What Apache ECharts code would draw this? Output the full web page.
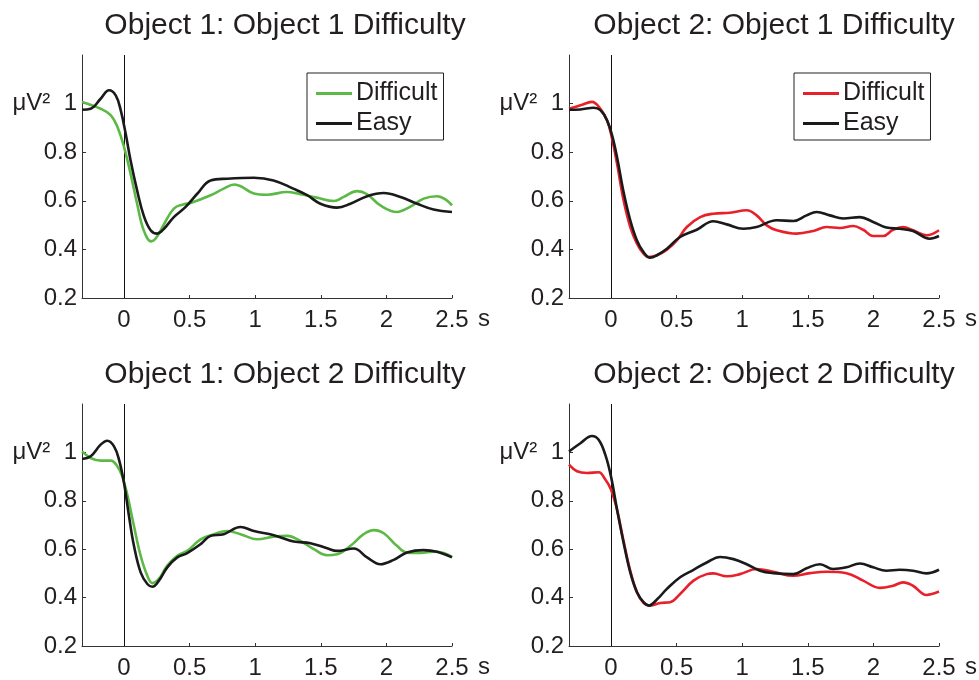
<!DOCTYPE html>
<html>
<head>
<meta charset="utf-8">
<script src="https://cdn.jsdelivr.net/npm/echarts@6/dist/echarts.min.js"></script>
<style>html,body{margin:0;padding:0;background:#fff;}#c{width:979px;height:680px;}</style>
</head>
<body>
<div id="c"></div>
<script>
// ---- tick labels ----
const xTickValues = [0, 0.5, 1, 1.5, 2, 2.5];
const xTickLabels = ['0', '0.5', '1', '1.5', '2', '2.5'];
const yTickValues = [0.2, 0.4, 0.6, 0.8, 1];
const yTickLabels = ['0.2', '0.4', '0.6', '0.8', 'μV²  1'];
const titles = ['Object 1: Object 1 Difficulty', 'Object 2: Object 1 Difficulty',
                'Object 1: Object 2 Difficulty', 'Object 2: Object 2 Difficulty'];
const seriesNames = ['Difficult', 'Easy'];

// ---- Panel 1 (Object 1: Object 1 Difficulty) ----
const p1DiffT = [-0.32,-0.178,-0.10,-0.05,0,0.05,0.10,0.15,0.208,0.25,0.30,0.38,0.457,0.508,0.66,0.76,0.84,0.89,0.99,1.09,1.24,1.345,1.47,1.60,1.675,1.777,1.853,1.954,2.08,2.18,2.284,2.386,2.46,2.5];
const p1DiffV = [1.007,0.979,0.952,0.904,0.822,0.712,0.588,0.479,0.433,0.451,0.499,0.568,0.586,0.591,0.623,0.65,0.667,0.66,0.63,0.625,0.636,0.627,0.613,0.599,0.616,0.64,0.627,0.581,0.554,0.575,0.609,0.619,0.602,0.581];
const p1EasyT = [-0.32,-0.254,-0.178,-0.114,-0.063,-0.025,0.013,0.05,0.10,0.15,0.203,0.254,0.305,0.38,0.47,0.56,0.66,0.787,0.99,1.14,1.29,1.396,1.497,1.624,1.726,1.853,1.98,2.107,2.234,2.36,2.5];
const p1EasyV = [0.975,0.979,1.02,1.055,1.034,0.973,0.876,0.767,0.643,0.54,0.479,0.465,0.485,0.533,0.575,0.63,0.684,0.691,0.695,0.684,0.65,0.623,0.588,0.572,0.588,0.619,0.632,0.616,0.588,0.564,0.554];

// ---- Panel 2 (Object 2: Object 1 Difficulty) ----
const p2DiffT = [-0.32,-0.233,-0.145,-0.081,-0.03,0.008,0.046,0.096,0.147,0.198,0.248,0.287,0.35,0.426,0.502,0.578,0.68,0.78,0.908,1.034,1.11,1.187,1.263,1.415,1.542,1.643,1.744,1.846,1.922,1.998,2.074,2.15,2.226,2.302,2.404,2.5];
const p2DiffV = [0.979,0.993,1.007,0.979,0.931,0.856,0.753,0.602,0.492,0.424,0.383,0.369,0.376,0.399,0.437,0.492,0.533,0.547,0.551,0.561,0.54,0.499,0.479,0.465,0.476,0.492,0.488,0.496,0.481,0.455,0.455,0.481,0.492,0.479,0.458,0.479];
const p2EasyT = [-0.32,-0.233,-0.132,-0.081,-0.03,0.008,0.046,0.096,0.147,0.198,0.248,0.299,0.35,0.426,0.527,0.654,0.78,0.882,1.009,1.11,1.263,1.39,1.491,1.567,1.668,1.77,1.897,1.998,2.1,2.2,2.302,2.429,2.5];
const p2EasyV = [0.975,0.976,0.983,0.973,0.931,0.87,0.78,0.636,0.52,0.437,0.389,0.366,0.376,0.403,0.451,0.481,0.516,0.503,0.485,0.492,0.52,0.517,0.54,0.554,0.54,0.527,0.533,0.513,0.49,0.485,0.476,0.444,0.455];

// ---- Panel 3 (Object 1: Object 2 Difficulty) ----
const p3DiffT = [-0.32,-0.254,-0.178,-0.10,-0.05,-0.013,0.025,0.076,0.127,0.178,0.216,0.266,0.33,0.406,0.482,0.584,0.685,0.787,0.888,1.015,1.142,1.244,1.345,1.447,1.548,1.624,1.726,1.827,1.904,1.98,2.08,2.157,2.26,2.36,2.437,2.5];
const p3DiffV = [1.004,0.977,0.966,0.966,0.942,0.901,0.826,0.696,0.573,0.49,0.46,0.477,0.532,0.573,0.593,0.641,0.662,0.675,0.662,0.641,0.652,0.655,0.634,0.6,0.575,0.579,0.614,0.662,0.679,0.666,0.614,0.586,0.584,0.59,0.584,0.568];
const p3EasyT = [-0.32,-0.254,-0.178,-0.127,-0.076,-0.038,0,0.038,0.076,0.127,0.178,0.216,0.266,0.33,0.406,0.482,0.584,0.66,0.76,0.888,0.99,1.142,1.294,1.421,1.548,1.624,1.751,1.853,1.954,2.056,2.157,2.284,2.386,2.5];
const p3EasyV = [0.973,0.984,1.032,1.048,1.025,0.97,0.874,0.737,0.614,0.504,0.456,0.445,0.47,0.525,0.566,0.584,0.621,0.655,0.662,0.692,0.675,0.658,0.632,0.625,0.604,0.593,0.603,0.566,0.538,0.556,0.586,0.596,0.589,0.566];

// ---- Panel 4 (Object 2: Object 2 Difficulty) ----
const p4DiffT = [-0.32,-0.259,-0.183,-0.094,-0.043,0,0.046,0.096,0.147,0.198,0.248,0.299,0.375,0.451,0.527,0.629,0.73,0.78,0.882,0.983,1.11,1.237,1.39,1.516,1.643,1.795,1.922,2.049,2.15,2.226,2.302,2.404,2.5];
const p4DiffV = [0.949,0.922,0.915,0.918,0.888,0.847,0.764,0.634,0.511,0.422,0.378,0.367,0.378,0.381,0.415,0.47,0.497,0.5,0.488,0.497,0.518,0.507,0.49,0.501,0.507,0.501,0.47,0.44,0.449,0.463,0.449,0.411,0.425];
const p4EasyT = [-0.32,-0.233,-0.145,-0.094,-0.043,0,0.046,0.096,0.147,0.198,0.248,0.287,0.35,0.426,0.527,0.629,0.73,0.832,0.933,1.034,1.136,1.237,1.39,1.491,1.592,1.693,1.795,1.897,1.998,2.1,2.2,2.302,2.404,2.5];
const p4EasyV = [1.004,1.038,1.068,1.052,0.99,0.901,0.764,0.627,0.504,0.422,0.381,0.367,0.392,0.436,0.484,0.515,0.545,0.568,0.559,0.538,0.511,0.501,0.497,0.521,0.538,0.518,0.525,0.541,0.525,0.511,0.515,0.511,0.5,0.515];

const panels = [
  {diffT: p1DiffT, diffV: p1DiffV, easyT: p1EasyT, easyV: p1EasyV, color: '#5cb946', legend: true},
  {diffT: p2DiffT, diffV: p2DiffV, easyT: p2EasyT, easyV: p2EasyV, color: '#e8202a', legend: true},
  {diffT: p3DiffT, diffV: p3DiffV, easyT: p3EasyT, easyV: p3EasyV, color: '#5cb946', legend: false},
  {diffT: p4DiffT, diffV: p4DiffV, easyT: p4EasyT, easyV: p4EasyV, color: '#e8202a', legend: false}
];

const FONT = '"Liberation Sans", Arial, Helvetica, sans-serif';
const TXT = '#231f20';
const gridPos = [
  {left: 82, top: 55, width: 370, height: 243},
  {left: 569, top: 55, width: 370, height: 243},
  {left: 82, top: 404, width: 370, height: 243},
  {left: 569, top: 404, width: 370, height: 243}
];
const titlePos = [{x: 280, y: 6}, {x: 769, y: 6}, {x: 280, y: 355}, {x: 769, y: 355}];
const legendPos = [{left: 307, top: 73}, {left: 794, top: 73}];

const zip = (t, v) => t.map((x, i) => [x, v[i]]);

const option = {
  animation: false,
  backgroundColor: '#fff',
  textStyle: {fontFamily: FONT},
  title: titles.map((t, i) => ({
    text: t, left: titlePos[i].x, top: titlePos[i].y, textAlign: 'center',
    textStyle: {fontFamily: FONT, fontSize: 30, fontWeight: 'normal', color: TXT}
  })),
  grid: gridPos.map(g => Object.assign({containLabel: false}, g)),
  xAxis: gridPos.map((g, i) => ({
    type: 'value', gridIndex: i, min: -0.32, max: 2.5,
    name: 's', nameLocation: 'end', nameGap: 26,
    nameTextStyle: {fontFamily: FONT, fontSize: 24, color: TXT, verticalAlign: 'top', padding: [9, 0, 0, 0]},
    axisLine: {show: true, onZero: false, lineStyle: {color: '#333', width: 1}},
    axisTick: {show: true, inside: true, length: 3, customValues: xTickValues, lineStyle: {color: '#333'}},
    axisLabel: {show: true, margin: 10, fontSize: 24, fontFamily: FONT, color: TXT,
      customValues: xTickValues,
      formatter: v => { const k = xTickValues.findIndex(x => Math.abs(x - v) < 1e-9); return k >= 0 ? xTickLabels[k] : ''; }},
    splitLine: {show: false}
  })),
  yAxis: gridPos.map((g, i) => ({
    type: 'value', gridIndex: i, min: 0.2, max: 1.2,
    axisLine: {show: true, onZero: false, lineStyle: {color: '#333', width: 1}},
    axisTick: {show: true, inside: true, length: 4, customValues: yTickValues, lineStyle: {color: '#333'}},
    axisLabel: {show: true, margin: 5, fontSize: 24, fontFamily: FONT, color: TXT,
      customValues: yTickValues,
      formatter: v => { const k = yTickValues.findIndex(x => Math.abs(x - v) < 1e-9); return k >= 0 ? yTickLabels[k] : ''; }},
    splitLine: {show: false}
  })),
  legend: legendPos.map((p, li) => ({
    left: p.left, top: p.top, orient: 'vertical',
    data: seriesNames.map(n => ({name: n + '|' + li, icon: 'rect'})),
    formatter: n => n.split('|')[0],
    itemWidth: 36, itemHeight: 3, itemGap: 5,
    padding: [8, 6, 4, 9],
    borderColor: '#222', borderWidth: 1, backgroundColor: '#fff',
    selectedMode: false,
    textStyle: {fontFamily: FONT, fontSize: 25, color: TXT, padding: [0, 0, 0, -1]}
  })),
  series: []
};

panels.forEach((p, i) => {
  const nm = p.legend ? (n => n + '|' + i) : (n => n + '|x' + i);
  option.series.push({
    type: 'line', name: nm('Difficult'), xAxisIndex: i, yAxisIndex: i,
    data: zip(p.diffT, p.diffV), smooth: 0.4, symbol: 'none', showSymbol: false,
    lineStyle: {color: p.color, width: 2.6}, itemStyle: {color: p.color}, z: 3,
    markLine: {silent: true, symbol: 'none', label: {show: false},
      lineStyle: {color: '#111', width: 1, type: 'solid'}, data: [{xAxis: 0}], z: 1}
  });
  option.series.push({
    type: 'line', name: nm('Easy'), xAxisIndex: i, yAxisIndex: i,
    data: zip(p.easyT, p.easyV), smooth: 0.4, symbol: 'none', showSymbol: false,
    lineStyle: {color: '#1a1a1a', width: 2.6}, itemStyle: {color: '#1a1a1a'}, z: 4
  });
});

const chart = echarts.init(document.getElementById('c'), null, {renderer: 'canvas'});
chart.setOption(option);
</script>
</body>
</html>
